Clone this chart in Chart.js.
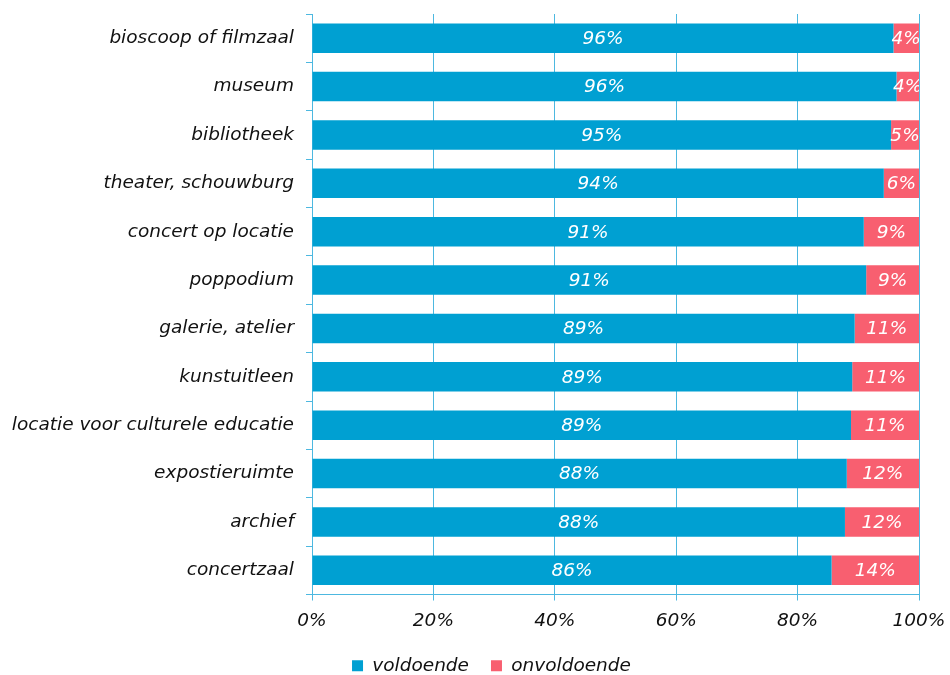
<!DOCTYPE html>
<html>
<head>
<meta charset="utf-8">
<script src="https://cdn.jsdelivr.net/npm/chart.js@4/dist/chart.umd.min.js"></script>
<style>
html,body{margin:0;padding:0;background:#fff;}
#wrap{width:950px;height:675px;position:relative;}
</style>
</head>
<body>
<div id="wrap"><canvas id="c" width="950" height="675"></canvas></div>
<script>
const categories = ["bioscoop of filmzaal","museum","bibliotheek","theater, schouwburg","concert op locatie","poppodium","galerie, atelier","kunstuitleen","locatie voor culturele educatie","expostieruimte","archief","concertzaal"];
const voldoende = [95.8, 96.3, 95.4, 94.2, 90.9, 91.3, 89.4, 89.0, 88.8, 88.1, 87.8, 85.6];
const onvoldoende = [4.2, 3.7, 4.6, 5.8, 9.1, 8.7, 10.6, 11.0, 11.2, 11.9, 12.2, 14.4];
const xTicks = [0, 20, 40, 60, 80, 100];
const seriesNames = ["voldoende", "onvoldoende"];

const FONT = "'DejaVu Sans', Verdana, sans-serif";
const FS = 18.5;
const BLUE = '#00a0d2';
const RED = '#f85f70';
const GRID = '#4db8e0';

const labelPlugin = {
  id: 'barLabels',
  afterLayout(chart) {
    const lg = chart.legend;
    if (lg) { lg.left += 32; lg.right += 32; }
  },
  afterDatasetsDraw(chart) {
    const ctx = chart.ctx;
    const a = chart.chartArea;
    ctx.save();
    ctx.beginPath();
    ctx.rect(a.left, a.top, a.right - a.left, a.bottom - a.top);
    ctx.clip();
    ctx.font = 'italic ' + FS + 'px ' + FONT;
    ctx.fillStyle = '#ffffff';
    ctx.textAlign = 'center';
    ctx.textBaseline = 'middle';
    chart.data.datasets.forEach((ds, di) => {
      const meta = chart.getDatasetMeta(di);
      meta.data.forEach((el, i) => {
        const p = el.getCenterPoint();
        ctx.fillText(Math.round(ds.data[i]) + '%', p.x, p.y + 1);
      });
    });
    ctx.restore();
  }
};

new Chart(document.getElementById('c'), {
  type: 'bar',
  data: {
    labels: categories,
    datasets: [
      { label: seriesNames[0], data: voldoende, backgroundColor: BLUE, borderWidth: 0, barPercentage: 0.61, categoryPercentage: 1 },
      { label: seriesNames[1], data: onvoldoende, backgroundColor: RED, borderWidth: 0, barPercentage: 0.61, categoryPercentage: 1 }
    ]
  },
  options: {
    indexAxis: 'y',
    responsive: false,
    animation: false,
    layout: { padding: { top: 14, right: 31, left: 0, bottom: -10 } },
    plugins: {
      legend: {
        position: 'bottom',
        labels: {
          boxWidth: 11, boxHeight: 11, padding: 22,
          color: '#111',
          font: { family: FONT, size: FS, style: 'italic' }
        }
      },
      tooltip: { enabled: false }
    },
    scales: {
      x: {
        stacked: true,
        min: 0, max: 100,
        afterBuildTicks(scale) { scale.ticks = xTicks.map(v => ({ value: v })); },
        afterFit(scale) { scale.height = 40; },
        ticks: {
          color: '#111',
          padding: 3,
          font: { family: FONT, size: FS, style: 'italic', lineHeight: 1.9 },
          callback: v => v + '%'
        },
        grid: { color: GRID, lineWidth: 1, tickLength: 6, drawTicks: true },
        border: { color: GRID, width: 1 }
      },
      y: {
        stacked: true,
        afterFit(scale) { scale.width = 312; },
        ticks: {
          color: '#111',
          padding: 12,
          font: { family: FONT, size: FS, style: 'italic', lineHeight: 0.2 }
        },
        grid: { color: GRID, lineWidth: 1, tickLength: 6, drawOnChartArea: false, offset: true },
        border: { color: GRID, width: 1 }
      }
    }
  },
  plugins: [labelPlugin]
});
</script>
</body>
</html>
